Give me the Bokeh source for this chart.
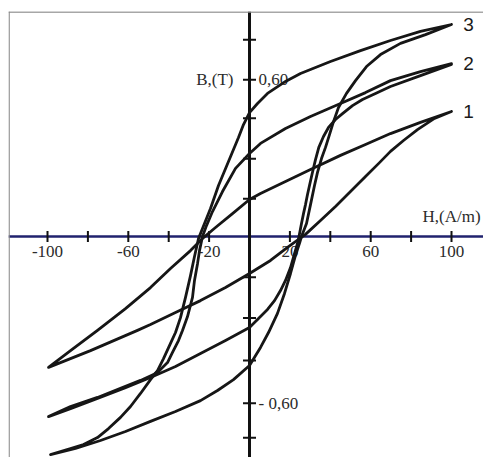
from bokeh.plotting import figure
from bokeh.models import Range1d, Span
from bokeh.core.properties import value
from bokeh.embed import file_html
from bokeh.resources import INLINE

# ---- data: three hysteresis loops, H in A/m, B in T ----
loop3_up_H = [100.0, 84.65, 69.80, 54.95, 40.10, 25.25, 17.82, 8.91, 3.96, 0.0, -2.97, -5.45, -10.40, -15.35, -19.31,
              -23.27, -25.25, -27.23, -29.21, -31.68, -34.16, -36.63, -39.11, -42.57, -45.54, -49.01, -53.96,
              -58.91, -63.86, -69.80, -75.25, -82.18, -88.61, -98.51]
loop3_up_B = [0.797, 0.771, 0.737, 0.699, 0.658, 0.613, 0.583, 0.538, 0.500, 0.466, 0.421, 0.372, 0.282, 0.192, 0.105,
              0.030, -0.008, -0.075, -0.147, -0.229, -0.305, -0.361, -0.402, -0.459, -0.504, -0.538, -0.590,
              -0.639, -0.680, -0.722, -0.756, -0.782, -0.797, -0.820]
loop3_lo_H = [-98.51, -86.14, -73.76, -61.39, -49.01, -36.63, -24.26, -15.84, -7.92, 0.0, 5.45, 9.41, 13.86, 17.33,
              20.30, 22.77, 24.75, 25.74, 28.22, 30.20, 32.18, 33.66, 35.64, 37.62, 39.60, 41.58, 44.06, 48.02,
              52.48, 57.92, 64.85, 74.75, 87.13, 100.0]
loop3_lo_B = [-0.820, -0.797, -0.767, -0.733, -0.695, -0.658, -0.617, -0.579, -0.538, -0.485, -0.417, -0.361, -0.289,
              -0.214, -0.139, -0.071, -0.026, 0.0, 0.049, 0.120, 0.192, 0.241, 0.293, 0.335, 0.383, 0.432, 0.485,
              0.538, 0.586, 0.639, 0.684, 0.726, 0.759, 0.797]

loop2_up_H = [100.0, 84.65, 69.80, 57.43, 45.05, 30.20, 17.82, 5.45, 0.0, -6.93, -13.37, -18.32, -21.29, -23.27,
              -24.75, -25.74, -27.23, -28.22, -30.69, -33.17, -35.15, -38.12, -40.59, -44.06, -47.52, -53.96,
              -63.86, -75.25, -88.61, -99.50]
loop2_up_B = [0.650, 0.620, 0.586, 0.541, 0.500, 0.451, 0.406, 0.350, 0.312, 0.256, 0.169, 0.094, 0.041, 0.0,
              -0.053, -0.102, -0.165, -0.229, -0.301, -0.353, -0.391, -0.436, -0.474, -0.500, -0.519, -0.541,
              -0.571, -0.605, -0.639, -0.677]
loop2_lo_H = [-99.50, -88.61, -75.25, -61.39, -49.01, -36.63, -24.26, -11.88, 0.0, 4.46, 8.91, 12.38, 15.35, 17.82,
              20.30, 22.28, 23.76, 24.50, 25.74, 26.73, 27.72, 28.71, 29.70, 31.04, 32.67, 34.31, 36.63, 39.11,
              42.57, 46.04, 50.99, 55.94, 62.38, 69.80, 84.65, 100.0]
loop2_lo_B = [-0.677, -0.647, -0.609, -0.568, -0.530, -0.489, -0.440, -0.391, -0.342, -0.308, -0.274, -0.241, -0.203,
              -0.165, -0.117, -0.064, -0.026, 0.0, 0.049, 0.086, 0.120, 0.158, 0.192, 0.237, 0.289, 0.335, 0.376,
              0.410, 0.440, 0.462, 0.492, 0.515, 0.538, 0.564, 0.605, 0.647]

loop1_up_H = [100.0, 84.65, 69.80, 57.43, 45.05, 30.20, 17.82, 5.45, 0.0, -8.42, -16.83, -22.77, -29.21, -39.11,
              -49.01, -61.39, -75.25, -88.61, -99.50]
loop1_up_B = [0.470, 0.429, 0.387, 0.346, 0.305, 0.252, 0.207, 0.162, 0.139, 0.086, 0.034, -0.004, -0.053, -0.120,
              -0.192, -0.271, -0.353, -0.429, -0.492]
loop1_lo_H = [-99.50, -78.71, -55.45, -49.01, -36.63, -24.26, -11.88, 0.0, 10.40, 18.81, 27.72, 35.15, 42.57, 50.0,
              57.43, 63.86, 69.80, 76.24, 83.17, 91.58, 100.0]
loop1_lo_B = [-0.492, -0.429, -0.353, -0.331, -0.286, -0.241, -0.192, -0.139, -0.090, -0.041, 0.008, 0.060, 0.113,
              0.169, 0.226, 0.274, 0.320, 0.361, 0.402, 0.444, 0.470]

loop_names = ["1", "2", "3"]

h_ticks = [-100, -80, -60, -40, -20, 20, 40, 60, 80, 100]
h_tick_values = [-100, -60, -20, 20, 60, 100]
h_tick_labels = ["-100", "-60", "-20", "20", "60", "100"]
b_ticks = [0.740, 0.589, 0.445, 0.292, 0.142, -0.153, -0.306, -0.466, -0.627, -0.757]
b_tick_values = [0.589, -0.627]
b_tick_labels = ["0,60", "- 0,60"]

# ---- figure ----
p = figure(width=483, height=457, output_backend="svg", toolbar_location=None,
           x_range=Range1d(-119.31, 115.84), y_range=Range1d(-0.8308, 0.8459),
           x_axis_type=None, y_axis_type=None,
           min_border_left=8, min_border_right=0, min_border_top=11, min_border_bottom=0)
p.grid.visible = False
p.outline_line_color = None
p.background_fill_color = "white"
p.border_fill_color = "white"

# frame lines (gray) at left and top
p.add_layout(Span(location=-119.0, dimension="height", line_color="#8a8a8a", line_width=1.3))
p.add_layout(Span(location=0.8440, dimension="width", line_color="#8a8a8a", line_width=1.3))

# axes through the origin
p.add_layout(Span(location=0, dimension="width", line_color="#20226e", line_width=2.7, level="underlay"))
p.add_layout(Span(location=0, dimension="height", line_color="#111111", line_width=3, level="underlay"))

# tick marks
p.scatter(x=h_ticks, y=[0] * len(h_ticks), marker="dash", angle=90, angle_units="deg",
          size=11, line_width=2, line_color="#111111")
p.scatter(x=[0] * len(b_ticks), y=b_ticks, marker="dash", size=13, line_width=2, line_color="#111111")

serif = value("Liberation Serif")
p.text(x=h_tick_values, y=[0] * len(h_tick_values), text=h_tick_labels, text_font=serif,
       text_font_size="17px", text_color="#2b2b2b", text_align="center", text_baseline="middle", y_offset=15)
p.text(x=[0] * len(b_tick_values), y=b_tick_values, text=b_tick_labels, text_font=serif,
       text_font_size="17px", text_color="#2b2b2b", text_align="left", text_baseline="middle", x_offset=9)
p.text(x=[0], y=[b_tick_values[0]], text=["B,(T)"], text_font=serif, text_font_size="17px",
       text_color="#2b2b2b", text_align="right", text_baseline="middle", x_offset=-16)
p.text(x=[h_ticks[-1]], y=[0], text=["H,(A/m)"], text_font=serif, text_font_size="17px",
       text_color="#2b2b2b", text_align="center", text_baseline="middle", y_offset=-20)

# loops
loops = [(loop1_up_H, loop1_up_B, loop1_lo_H, loop1_lo_B),
         (loop2_up_H, loop2_up_B, loop2_lo_H, loop2_lo_B),
         (loop3_up_H, loop3_up_B, loop3_lo_H, loop3_lo_B)]
for uh, ub, lh, lb in loops:
    p.line(x=uh + lh, y=ub + lb, line_color="#161616", line_width=2.8, line_join="round", line_cap="round")

tip_B = [l[1][0] for l in loops]
p.text(x=[100] * 3, y=tip_B, text=loop_names, text_font=value("Liberation Sans"), text_font_size="19px",
       text_color="#1a1a1a", text_align="center", text_baseline="middle", x_offset=17)

open("out.html", "w").write(file_html(p, INLINE))
